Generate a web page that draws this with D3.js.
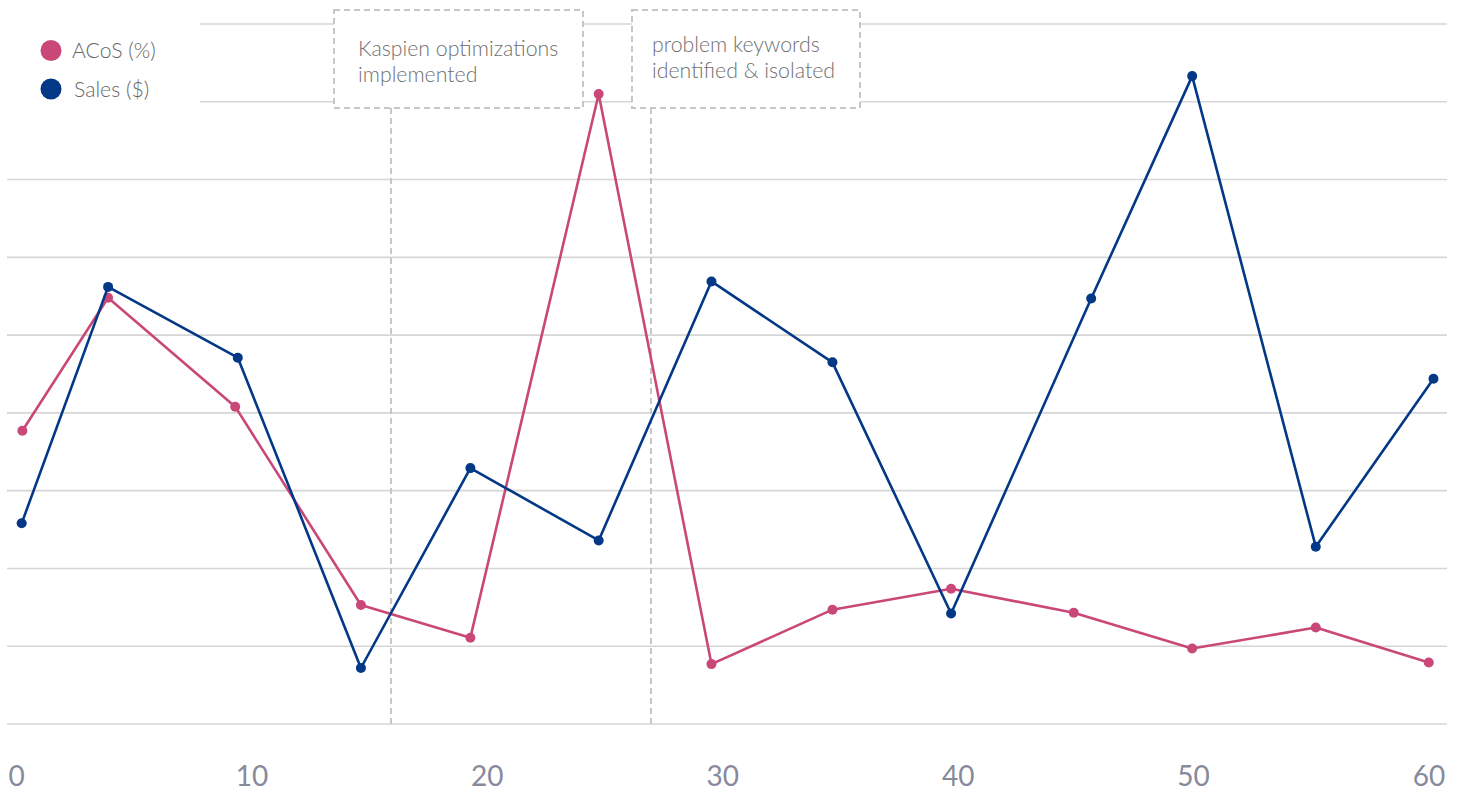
<!DOCTYPE html>
<html lang="en">
<head>
    <meta charset="UTF-8">
    <title>ACoS vs Sales</title>
    <style>
        body {
            margin: 0;
            background-color: #fff;
        }
        svg {
            display: block;
        }
    </style>
</head>
<body>
    <script src="https://cdnjs.cloudflare.com/ajax/libs/d3/7.8.5/d3.min.js"></script>
<script>
    const width = 1461;
    const height = 793;

    // data
    const acosX = [0.25, 3.89, 9.29, 14.63, 19.28, 24.73, 29.52, 34.66, 39.70, 44.91, 49.94, 55.19, 59.99];
    const acosY = [37.7, 54.8, 40.8, 15.3, 11.1, 81.0, 7.7, 14.7, 17.4, 14.3, 9.7, 12.4, 7.9];
    const salesX = [0.22, 3.89, 9.40, 14.63, 19.28, 24.73, 29.52, 34.66, 39.70, 45.65, 49.94, 55.19, 60.19];
    const salesY = [25.8, 56.2, 47.1, 7.2, 32.9, 23.6, 56.9, 46.5, 14.2, 54.7, 83.3, 22.8, 44.4];
    const xTicks = [0, 10, 20, 30, 40, 50, 60];
    const legendLabels = ["ACoS (%)", "Sales ($)"];
    const noteX = [15.91, 26.95];
    const noteLines = [
        ["Kaspien optimizations", "implemented"],
        ["problem keywords", "identified & isolated"]
    ];

    const pink = "#c94878";
    const blue = "#033887";
    const grid = "#d6d6d6";
    const dash = "#c6c6c6";

    const x = d3.scaleLinear().domain([0, 60]).range([16.5, 1429]);
    const y = d3.scaleLinear().domain([0, 90]).range([724, 24]);

    const svg = d3.select("body").append("svg")
        .attr("width", width)
        .attr("height", height);

    // horizontal grid
    svg.append("g")
        .selectAll("line")
        .data(y.ticks(9))
        .join("line")
            .attr("x1", 7)
            .attr("x2", 1447)
            .attr("y1", d => y(d))
            .attr("y2", d => y(d))
            .attr("stroke", grid)
            .attr("stroke-width", 1.6);

    // x labels
    svg.append("g")
        .selectAll("text")
        .data(xTicks)
        .join("text")
            .attr("x", d => x(d))
            .attr("y", 786)
            .attr("text-anchor", "middle")
            .attr("font-family", "Lato, sans-serif")
            .attr("font-size", 28)
            .attr("fill", "#878a9a")
            .text(d => d);

    // annotation guides
    svg.append("g")
        .selectAll("line")
        .data(noteX)
        .join("line")
            .attr("x1", d => x(d))
            .attr("x2", d => x(d))
            .attr("y1", 108)
            .attr("y2", y(0))
            .attr("stroke", dash)
            .attr("stroke-width", 2)
            .attr("stroke-dasharray", "6,4");

    const series = [
        {xs: acosX, ys: acosY, color: pink},
        {xs: salesX, ys: salesY, color: blue}
    ];

    const line = d3.line()
        .x(d => x(d[0]))
        .y(d => y(d[1]));

    series.forEach(s => {
        const pts = d3.zip(s.xs, s.ys);
        svg.append("path")
            .datum(pts)
            .attr("d", line)
            .attr("fill", "none")
            .attr("stroke", s.color)
            .attr("stroke-width", 2.6)
            .attr("stroke-linejoin", "round");
        svg.append("g")
            .selectAll("circle")
            .data(pts)
            .join("circle")
                .attr("cx", d => x(d[0]))
                .attr("cy", d => y(d[1]))
                .attr("r", 5)
                .attr("fill", s.color);
    });

    // annotation boxes
    const boxes = [
        {x0: 334, x1: 583, tx: 358, ty: 56},
        {x0: 632, x1: 860, tx: 652, ty: 52}
    ];
    boxes.forEach((b, i) => {
        svg.append("rect")
            .attr("x", b.x0)
            .attr("y", 10)
            .attr("width", b.x1 - b.x0)
            .attr("height", 98)
            .attr("fill", "#fff")
            .attr("stroke", dash)
            .attr("stroke-width", 2)
            .attr("stroke-dasharray", "6,4");
        svg.append("g")
            .selectAll("text")
            .data(noteLines[i])
            .join("text")
                .attr("x", b.tx)
                .attr("y", (d, j) => b.ty + j * 26)
                .attr("font-family", "Lato, sans-serif")
                .attr("font-weight", 300)
                .attr("font-size", 21.3)
                .attr("fill", "#6f6f6f")
                .text(d => d);
    });

    // legend
    svg.append("rect")
        .attr("x", 0)
        .attr("y", 0)
        .attr("width", 200)
        .attr("height", 140)
        .attr("fill", "#fff");

    const legend = svg.append("g")
        .selectAll("g")
        .data(legendLabels)
        .join("g")
            .attr("transform", (d, i) => `translate(51, ${50.5 + i * 38.5})`);
    legend.append("circle")
        .attr("r", 10.5)
        .attr("fill", (d, i) => i ? blue : pink);
    legend.append("text")
        .attr("x", (d, i) => i ? 23 : 21)
        .attr("y", 7.5)
        .attr("font-family", "Lato, sans-serif")
        .attr("font-weight", 300)
        .attr("font-size", 21.2)
        .attr("fill", "#666")
        .text(d => d);
</script>
</body>
</html>
